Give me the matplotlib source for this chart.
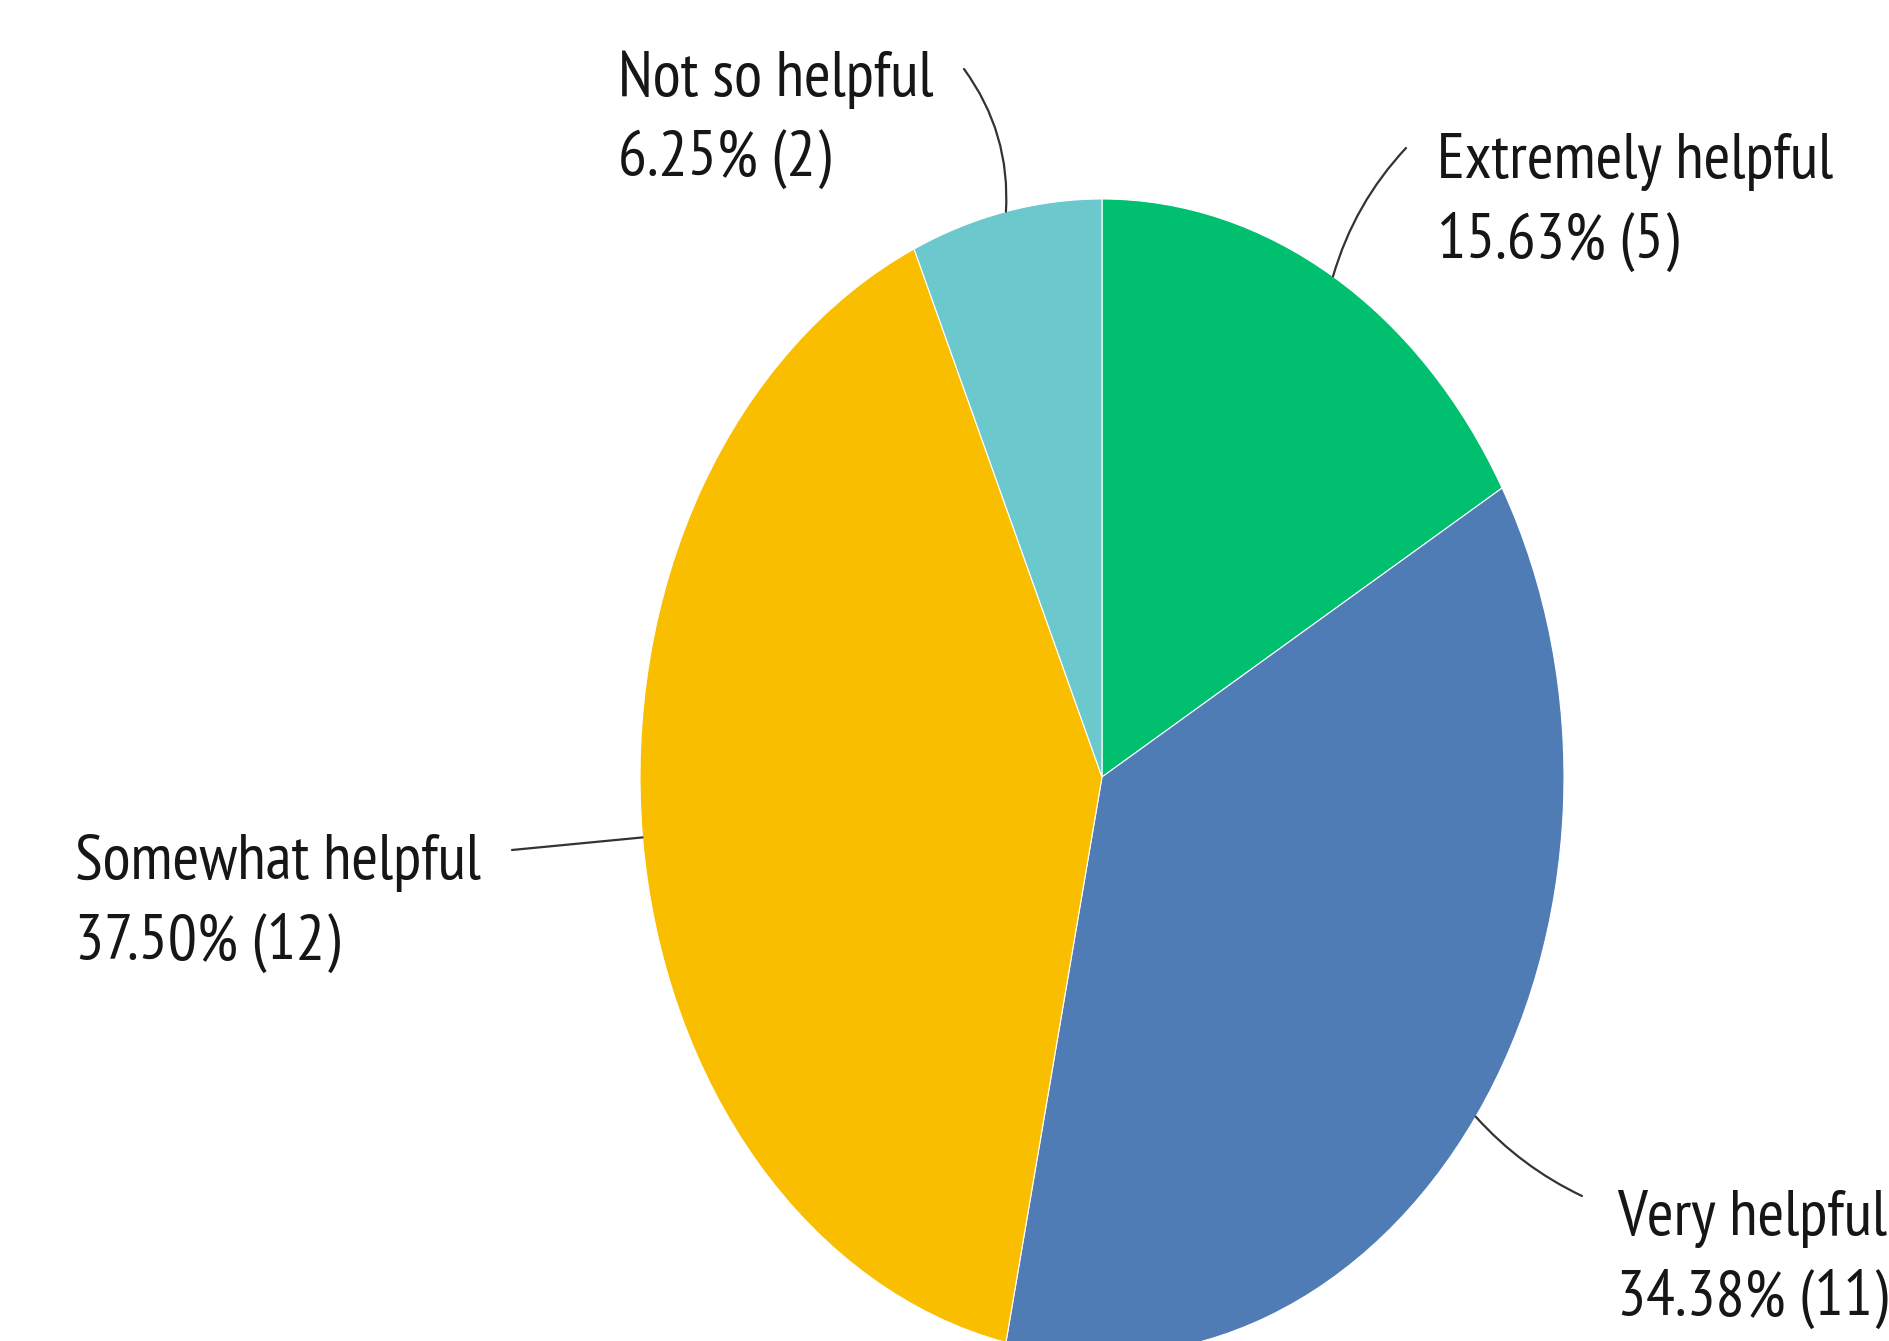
import numpy as np
import matplotlib
matplotlib.use("Agg")
import matplotlib.pyplot as plt

categories = ["Extremely helpful", "Very helpful", "Somewhat helpful", "Not so helpful"]
percents = [15.63, 34.38, 37.50, 6.25]
counts = [5, 11, 12, 2]
colors = ["#00BF6F", "#507CB6", "#F9BE00", "#6BC8CD"]

W, H = 1889, 1341
plt.rcParams["font.family"] = ["PT Sans Narrow", "IBM Plex Sans Condensed", "DejaVu Sans"]

fig = plt.figure(figsize=(W / 100, H / 100), dpi=100)
ax = fig.add_axes([0, 0, 1, 1])
wedges, _ = ax.pie(counts, colors=colors, startangle=90, counterclock=False,
                   wedgeprops=dict(edgecolor="white", linewidth=0.8))

# the reference pie is stretched vertically and cropped at the bottom
cx, cy = 1102, 777          # centre in pixels (from top)
rx, ry = 462, 578           # radii in pixels
ax.set_aspect("auto")
ax.set_xlim(-cx / rx, (W - cx) / rx)
ax.set_ylim(-(H - cy) / ry, cy / ry)
ax.axis("off")

# label layout: text left x, first baseline (pixels from top), leader end
label_x = [1437, 1617, 75, 618]
label_y = [178, 1235, 879, 96]
leader_end = [(1406, 148), (1582, 1196), (512, 850), (964, 69)]
leader_rad = [0.12, -0.1, 0.0, -0.18]

for i, w in enumerate(wedges):
    ang = np.deg2rad((w.theta1 + w.theta2) / 2)
    xy = (np.cos(ang), np.sin(ang))
    ex, ey = leader_end[i]
    ax.annotate("", xy=xy, xycoords="data", xytext=(ex, H - ey), textcoords="figure pixels",
                arrowprops=dict(arrowstyle="-", color="#333333", lw=1.6,
                                shrinkA=0, shrinkB=0,
                                connectionstyle=f"arc3,rad={leader_rad[i]}"))
    fig.text(label_x[i] / W, 1 - label_y[i] / H, categories[i],
             fontsize=46.5, color="#161616", va="baseline", ha="left")
    fig.text(label_x[i] / W, 1 - (label_y[i] + 80) / H, f"{percents[i]:.2f}% ({counts[i]})",
             fontsize=46.5, color="#161616", va="baseline", ha="left")

fig.savefig("out.png", dpi=100)
